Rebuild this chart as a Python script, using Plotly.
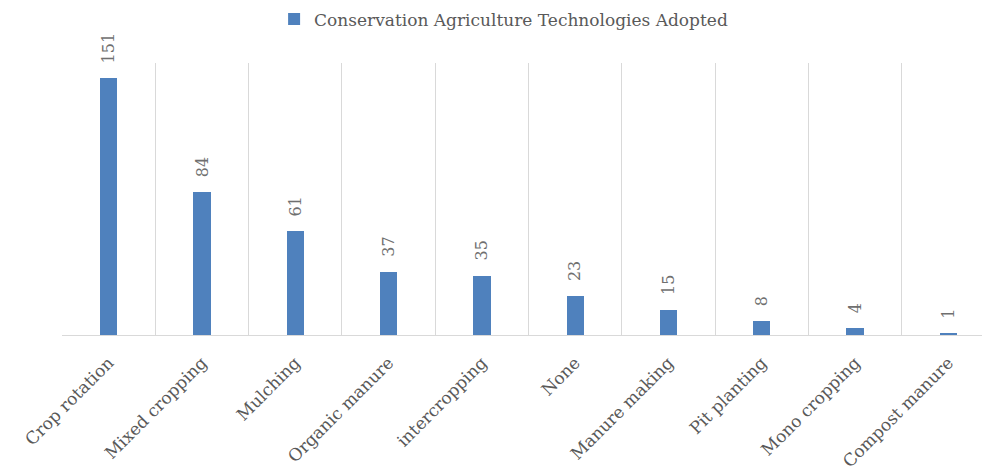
import plotly.graph_objects as go

categories = ["Crop rotation", "Mixed cropping", "Mulching", "Organic manure", "intercropping",
              "None", "Manure making", "Pit planting", "Mono cropping", "Compost manure"]
values = [151, 84, 61, 37, 35, 23, 15, 8, 4, 1]
series_name = "Conservation Agriculture Technologies Adopted"

FONT = "DejaVu Serif"
GRAY = "#6f6f6f"

fig = go.Figure()
fig.add_trace(go.Bar(
    x=categories, y=values, name=series_name,
    marker=dict(color="#4F81BD", line=dict(width=0)),
    width=0.185,
))

for c, v in zip(categories, values):
    fig.add_annotation(x=c, y=v, text=str(v), textangle=-90, showarrow=False,
                       yanchor="bottom", xanchor="center", yshift=13,
                       font=dict(family=FONT, size=16, color=GRAY))

fig.update_layout(
    width=982, height=476,
    margin=dict(l=62, r=0, t=63, b=141, autoexpand=False),
    paper_bgcolor="white", plot_bgcolor="white",
    showlegend=True,
    legend=dict(orientation="h", x=0.48, xanchor="center", y=1.16, yanchor="middle",
                font=dict(family=FONT, size=17, color="#595959")),
    xaxis=dict(range=[-0.5, 9.36], tickangle=-45, tickson="boundaries",
               showgrid=True, gridcolor="#d9d9d9", gridwidth=1.3,
               showline=True, linecolor="#d9d9d9", linewidth=1.3, ticks="",
               ticklabelstandoff=10,
               tickfont=dict(family=FONT, size=17, color="#595959")),
    yaxis=dict(range=[0, 160], showgrid=False, showticklabels=False, zeroline=False,
               showline=False),
    bargap=0,
)

fig.write_html("out.html")
